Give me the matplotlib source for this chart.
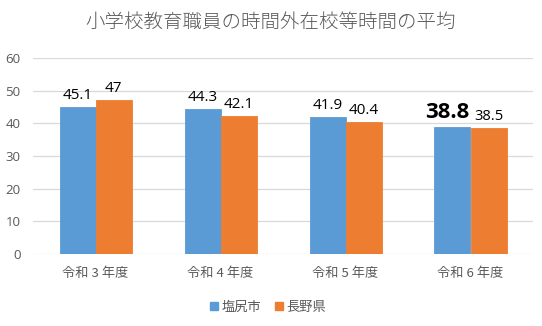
import matplotlib
matplotlib.use("Agg")
import matplotlib.pyplot as plt
from matplotlib.patches import Patch
import numpy as np

plt.rcParams['font.family'] = ['Lato', 'Noto Sans CJK JP', 'DejaVu Sans']

title = "小学校教育職員の時間外在校等時間の平均"
categories = ["令和 3 年度", "令和 4 年度", "令和 5 年度", "令和 6 年度"]
series_names = ["塩尻市", "長野県"]
shiojiri = [45.1, 44.3, 41.9, 38.8]
nagano = [47, 42.1, 40.4, 38.5]
yticks = [0, 10, 20, 30, 40, 50, 60]

blue = "#5B9BD5"
orange = "#ED7D31"
gray = "#595959"
grid = "#D9D9D9"

fig = plt.figure(figsize=(5.42, 3.26), dpi=100)
ax = fig.add_axes([33 / 542, 1 - 254 / 326, 500 / 542, 196 / 326])

x = np.arange(len(categories))
w = 0.288
# thin same-colour edges keep the paired bars flush against each other
ax.bar(x - w / 2, shiojiri, w, color=blue, edgecolor=blue, linewidth=0.6, zorder=3)
ax.bar(x + w / 2, nagano, w, color=orange, edgecolor=orange, linewidth=0.6, zorder=3)

ax.set_xlim(-0.5, len(categories) - 0.5)
ax.set_ylim(0, 60)
ax.set_yticks(yticks)
ax.set_yticklabels([str(t) for t in yticks], fontsize=9.5, color=gray,
                   family=['Open Sans', 'DejaVu Sans'])
ax.set_xticks(x)
ax.set_xticklabels(categories, fontsize=9.5, color=gray,
                   family=['Noto Sans CJK JP', 'DejaVu Sans'])
ax.tick_params(axis='both', length=0)
ax.tick_params(axis='x', pad=9)
ax.tick_params(axis='y', pad=9)
ax.grid(axis='y', color=grid, linewidth=0.9, zorder=0)
for s in ax.spines.values():
    s.set_visible(False)

# value labels; the latest city value is emphasised
last = len(categories) - 1
for i, v in enumerate(shiojiri):
    if i == last:
        ax.annotate(f"{v}", (x[i] - w / 2, v), xytext=(-4, 3),
                    textcoords='offset points', ha='center', va='bottom',
                    fontsize=16, fontweight='bold', color='black',
                    family=['Open Sans', 'DejaVu Sans'])
    else:
        ax.annotate(f"{v}", (x[i] - w / 2, v), xytext=(0, 3),
                    textcoords='offset points', ha='center', va='bottom',
                    fontsize=11, color='black',
                    family=['Open Sans', 'DejaVu Sans'])
for i, v in enumerate(nagano):
    ax.annotate(f"{v:g}", (x[i] + w / 2, v), xytext=(0, 3),
                textcoords='offset points', ha='center', va='bottom',
                fontsize=11 if i != last else 10.5, color='black',
                family=['Open Sans', 'DejaVu Sans'])

fig.text(0.5, 1 - 22 / 326, title, ha='center', va='center', fontsize=14,
         color=gray, family=['Noto Sans CJK JP', 'DejaVu Sans'],
         fontweight='light')

handles = [Patch(color=blue, label=series_names[0]),
           Patch(color=orange, label=series_names[1])]
fig.legend(handles=handles, loc='center', bbox_to_anchor=(268 / 542, 1 - 307 / 326),
           ncol=2, frameon=False, handlelength=0.6, handleheight=0.6,
           handletextpad=0.3, columnspacing=1.0,
           prop={'family': ['Noto Sans CJK JP', 'DejaVu Sans'], 'size': 9.5},
           labelcolor=gray)

fig.savefig("out.png", dpi=100)
